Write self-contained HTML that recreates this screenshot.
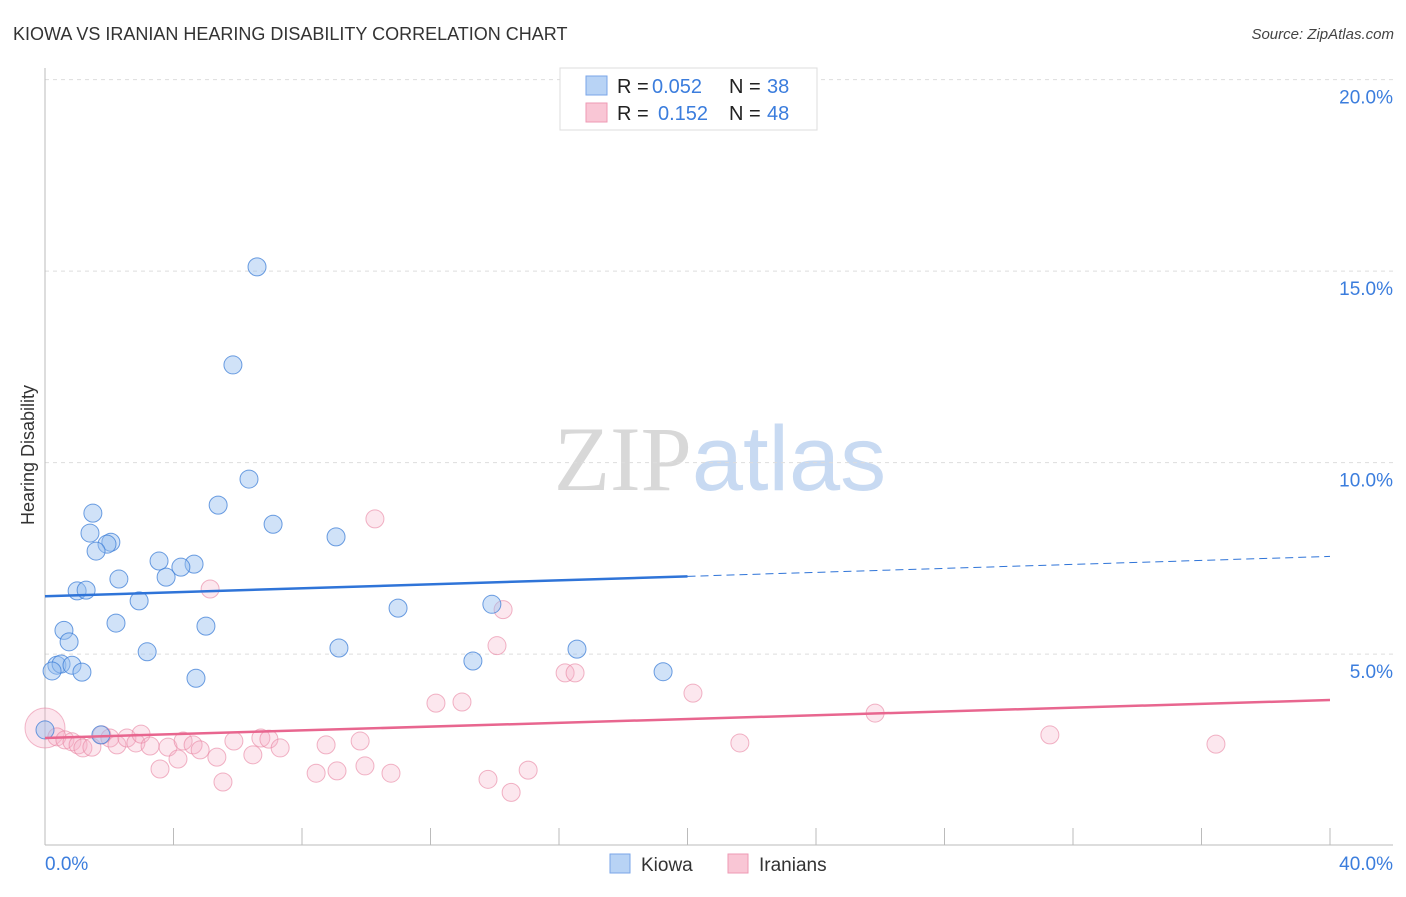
<!DOCTYPE html>
<html><head><meta charset="utf-8"><style>
body{margin:0;background:#fff;font-family:"Liberation Sans",sans-serif}
svg text{font-family:"Liberation Sans",sans-serif}
</style></head><body>
<svg id="chart" width="1406" height="892" xmlns="http://www.w3.org/2000/svg">
<text x="13" y="40" font-size="18" fill="#333">KIOWA VS IRANIAN HEARING DISABILITY CORRELATION CHART</text>
<text x="1394" y="39" font-size="15" fill="#444" text-anchor="end" font-style="italic">Source: ZipAtlas.com</text>
<text x="720" y="490" font-size="92" text-anchor="middle"><tspan fill="#d8d8d8" font-family="Liberation Serif">ZIP</tspan><tspan fill="#c8daf2">atlas</tspan></text>
<g id="grid"></g>
<g id="axes"></g>
<g id="marks"></g>
<text transform="translate(34,455) rotate(-90)" font-size="18" fill="#333" text-anchor="middle">Hearing Disability</text>
<g>
<rect x="560" y="68" width="257" height="62" fill="#fff" stroke="#ddd"/>
<rect x="586" y="76" width="21" height="19" fill="#b8d3f5" stroke="#7aa6e8"/>
<rect x="586" y="103" width="21" height="19" fill="#f9c6d5" stroke="#ee9ab4"/>
<g font-size="20">
<text x="617" y="93" fill="#222">R =</text>
<text x="652" y="93" fill="#3b7ddd">0.052</text>
<text x="729" y="93" fill="#222">N =</text>
<text x="767" y="93" fill="#3b7ddd">38</text>
</g>
<g font-size="20">
<text x="617" y="120" fill="#222">R =</text>
<text x="658" y="120" fill="#3b7ddd">0.152</text>
<text x="729" y="120" fill="#222">N =</text>
<text x="767" y="120" fill="#3b7ddd">48</text>
</g>
</g>
<g>
<rect x="610" y="854" width="20" height="19" fill="#b8d3f5" stroke="#7aa6e8"/>
<text x="641" y="871" font-size="19" fill="#333">Kiowa</text>
<rect x="728" y="854" width="20" height="19" fill="#f9c6d5" stroke="#ee9ab4"/>
<text x="759" y="871" font-size="19" fill="#333">Iranians</text>
</g>
</svg>
<script>
const yTicks=[5,10,15,20];
const yTickLabels=["5.0%","10.0%","15.0%","20.0%"];
const xTickLabels=["0.0%","40.0%"];
const kiowaX=[6.60,5.85,6.35,5.39,7.10,9.06,1.49,1.40,2.05,1.93,1.59,3.55,4.64,4.23,3.77,2.30,1.00,1.28,2.93,2.21,5.01,0.59,0.75,3.18,10.99,13.91,16.56,9.15,13.32,19.24,0.37,0.50,0.84,0.22,1.15,4.70,1.74,0.0];
const kiowaY=[15.11,12.55,9.57,8.89,8.39,8.06,8.68,8.16,7.92,7.87,7.69,7.43,7.35,7.27,7.01,6.96,6.65,6.67,6.39,5.81,5.73,5.62,5.32,5.06,6.20,6.30,5.13,5.16,4.82,4.54,4.71,4.74,4.71,4.56,4.53,4.37,2.89,3.02];
const iranX=[0.37,0.62,0.84,1.03,1.18,1.46,1.77,2.02,2.24,2.55,2.83,2.99,3.27,3.58,3.83,4.14,4.30,4.61,4.83,5.35,5.54,5.88,6.47,6.72,6.97,7.32,8.44,8.75,9.09,9.81,9.96,10.77,12.17,10.27,5.14,14.26,14.07,16.19,16.50,12.98,20.17,25.84,31.28,36.45,21.63,13.79,14.51,15.04];
const iranY=[2.84,2.76,2.71,2.63,2.55,2.57,2.89,2.81,2.63,2.81,2.68,2.91,2.60,2.00,2.57,2.26,2.73,2.63,2.50,2.31,1.66,2.73,2.37,2.81,2.78,2.55,1.89,2.63,1.95,2.73,2.08,1.89,3.72,8.53,6.70,6.16,5.22,4.51,4.51,3.75,3.98,3.46,2.89,2.65,2.68,1.73,1.39,1.97];
const kiowaTrend=[6.51,7.03,7.55];
const iranTrend=[2.81,3.80];
const NS="http://www.w3.org/2000/svg";
const X=v=>45+v*32.125, Y=v=>845.6-v*38.3;
function mk(tag,attrs,parent){const e=document.createElementNS(NS,tag);for(const k in attrs)e.setAttribute(k,attrs[k]);parent.appendChild(e);return e;}
const grid=document.getElementById('grid'),axes=document.getElementById('axes'),marks=document.getElementById('marks');
yTicks.forEach((t,i)=>{
 const l=mk('line',{x1:45,x2:1393,y1:Y(t),y2:Y(t),stroke:'#ddd','stroke-dasharray':'4,4'},grid);
 
 
 const tx=mk('text',{x:1393,y:Y(t)+24,'font-size':19,fill:'#3b7ddd','text-anchor':'end'},axes);
 tx.textContent=yTickLabels[i];
 
 
});
let a=mk('line',{x1:45,x2:45,y1:68,y2:845,stroke:'#bbb'},axes);


a=mk('line',{x1:45,x2:1393,y1:845,y2:845,stroke:'#bbb'},axes);


for(let v=4;v<=40;v+=4){
 const t=mk('line',{x1:X(v),x2:X(v),y1:828,y2:845,stroke:'#bbb'},axes);
 
 
}
[[0,'start',45],[40,'end',1393]].forEach((d,i)=>{
 const tx=mk('text',{x:d[2],y:870,'font-size':19,fill:'#3b7ddd','text-anchor':d[1]},axes);
 tx.textContent=xTickLabels[i];
 
 
});
let big=mk('circle',{cx:X(0),cy:Y(3.07),r:20,fill:'rgba(244,170,195,0.3)',stroke:'rgba(232,130,160,0.55)'},marks);


iranX.forEach((x,i)=>{
 const c=mk('circle',{cx:X(x),cy:Y(iranY[i]),r:9,fill:'rgba(246,175,198,0.3)',stroke:'rgba(232,130,160,0.6)'},marks);
 
 
});
kiowaX.forEach((x,i)=>{
 const c=mk('circle',{cx:X(x),cy:Y(kiowaY[i]),r:9,fill:'rgba(150,190,240,0.45)',stroke:'rgba(60,125,215,0.75)'},marks);
 
 
});
let tl=mk('line',{x1:X(0),y1:Y(kiowaTrend[0]),x2:X(20),y2:Y(kiowaTrend[1]),stroke:'#2f74d8','stroke-width':2.5},marks);


tl=mk('line',{x1:X(20),y1:Y(kiowaTrend[1]),x2:X(40),y2:Y(kiowaTrend[2]),stroke:'#2f74d8','stroke-width':1,'stroke-dasharray':'8,5'},marks);


tl=mk('line',{x1:X(0),y1:Y(iranTrend[0]),x2:X(40),y2:Y(iranTrend[1]),stroke:'#e8668f','stroke-width':2.5},marks);


</script>
</body></html>
